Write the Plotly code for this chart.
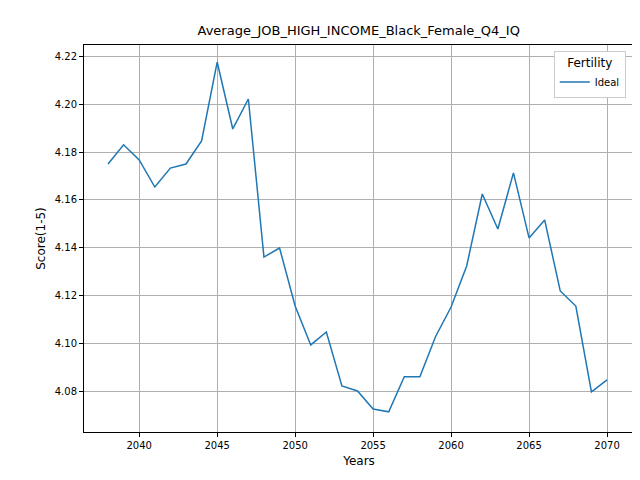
import plotly.graph_objects as go

years = list(range(2038, 2071))
ideal = [4.175, 4.183, 4.1767, 4.1654, 4.1733, 4.175, 4.1846, 4.2175, 4.1896, 4.2021,
         4.1362, 4.14, 4.1158, 4.0996, 4.105, 4.0825, 4.0804, 4.0729, 4.0717, 4.0863,
         4.0863, 4.103, 4.1154, 4.1325, 4.1625, 4.1479, 4.1713, 4.1442, 4.1517, 4.1221,
         4.1158, 4.08, 4.085]

fig = go.Figure()
fig.add_trace(go.Scatter(x=years, y=ideal, mode='lines', name='Ideal',
                         line=dict(color='#1f77b4', width=1.5)))

axis_style = dict(showgrid=True, gridcolor='#b0b0b0', gridwidth=1,
                  showline=True, linecolor='black', mirror=True, automargin=False,
                  ticks='outside', ticklen=4, tickcolor='black', zeroline=False)

fig.update_layout(
    width=640, height=480,
    paper_bgcolor='white', plot_bgcolor='white',
    margin=dict(l=76, r=14, t=37, b=56, autoexpand=False),
    font=dict(family='DejaVu Sans', size=10, color='black'),
    title=dict(text='Average_JOB_HIGH_INCOME_Black_Female_Q4_IQ', x=0.548, xanchor='center',
               y=0.953, yanchor='middle', font=dict(size=13)),
    xaxis=dict(title=dict(text='Years', standoff=6), range=[2036.46, 2071.73],
               tickvals=[2040, 2045, 2050, 2055, 2060, 2065, 2070], **axis_style),
    yaxis=dict(title=dict(text='Score(1-5)', standoff=6), range=[4.0633, 4.2246],
               tickvals=[4.08, 4.10, 4.12, 4.14, 4.16, 4.18, 4.20, 4.22],
               tickformat='.2f', **axis_style),
    showlegend=True,
    legend=dict(title=dict(text='Fertility', side='top center'), x=0.985, y=0.985,
                xanchor='right', yanchor='top', bordercolor='#cccccc', borderwidth=1,
                bgcolor='white'),
)

fig.write_html("out.html")
